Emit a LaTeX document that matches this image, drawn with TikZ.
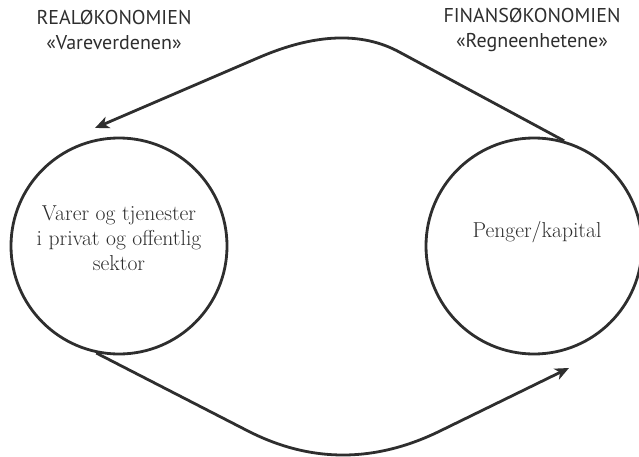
\documentclass[tikz,border=0pt]{standalone}
\usepackage{fontspec}
\newfontfamily\headfont{PT Sans}
\usetikzlibrary{arrows.meta,calc}
\definecolor{ink}{HTML}{2E2E2E}
\begin{document}
\begin{tikzpicture}[x=1pt,y=-1pt,
  ring/.style={circle,draw=ink,line width=2.8pt,minimum size=216pt,inner sep=0pt},
  body/.style={text=ink,font=\fontsize{21.6}{25}\selectfont,align=center,inner sep=0pt},
  head/.style={text=ink,font=\headfont\fontsize{20}{25}\selectfont,align=center,inner sep=0pt},
  flow/.style={draw=ink,line width=2.8pt,line join=round,-{Stealth[length=14pt,width=12pt,inset=4pt]}}]
\useasboundingbox (0,0) rectangle (639,457);
\node[ring] (L) at (119,246) {};
\node[ring] (R) at (534,246) {};
\node[body] (Ltext) at (119,238) {Varer og tjenester\\i privat og offentlig\\sektor};
\node[body] (Rtext) at (537,232) {Penger/kapital};
\node[head] (Lhead) at (114,30) {REALØKONOMIEN\\«Vareverdenen»};
\node[head] (Rhead) at (532,30) {FINANSØKONOMIEN\\«Regneenhetene»};
\coordinate (t1) at (95,128);
\coordinate (t2) at (569,368);
\draw[flow] (R.74) -- (400,52.4)
  .. controls ($(400,52.4)!2/3!(343,21)$) and ($(258,57.9)!2/3!(343,21)$) .. (258,57.9) -- (t1);
\draw[flow] (L.258) -- (248,431)
  .. controls ($(248,431)!2/3!(342,479)$) and ($(440,431)!2/3!(342,479)$) .. (440,431) -- (t2);
\end{tikzpicture}
\end{document}
